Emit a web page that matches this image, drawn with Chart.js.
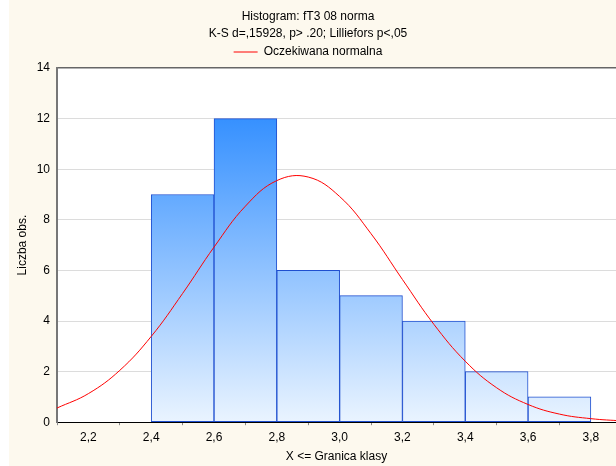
<!DOCTYPE html>
<html>
<head>
<meta charset="utf-8">
<script src="https://cdn.jsdelivr.net/npm/chart.js@4.4.1/dist/chart.umd.min.js"></script>
<style>
  html, body { margin:0; padding:0; background:#fff; }
  canvas { display:block; }
</style>
</head>
<body>
<canvas id="histo" width="616" height="466"></canvas>
<script>
// klasy histogramu (dolne granice) i liczebnosci
const binStarts = [2.4, 2.6, 2.8, 3.0, 3.2, 3.4, 3.6];
const binWidth = 0.2;
const counts = [9, 12, 6, 5, 4, 2, 1];
// krzywa "Oczekiwana normalna"
const curveX = [2.1, 2.2, 2.3, 2.4, 2.5, 2.6, 2.7, 2.8, 2.9, 3.0, 3.1, 3.2, 3.3, 3.4, 3.5, 3.6, 3.7, 3.8, 3.9];
const curveY = [0.56, 1.13, 2.05, 3.39, 5.09, 6.92, 8.54, 9.55, 9.69, 8.92, 7.45, 5.64, 3.87, 2.41, 1.36, 0.70, 0.32, 0.14, 0.05];
const xTicks = [2.2, 2.4, 2.6, 2.8, 3.0, 3.2, 3.4, 3.6, 3.8];
const yTicks = [0, 2, 4, 6, 8, 10, 12, 14];

const FONT = 'Liberation Sans, Arial, sans-serif';

const bgPlugin = {
  id: 'bg',
  beforeDraw(chart) {
    const { ctx, chartArea: a } = chart;
    ctx.save();
    ctx.fillStyle = '#fff';
    ctx.fillRect(0, 0, chart.width, chart.height);
    ctx.fillStyle = '#fdf9ee';
    ctx.fillRect(9, 0, chart.width - 9, chart.height);
    ctx.fillStyle = '#fff';
    ctx.fillRect(a.left, a.top, a.right - a.left, a.bottom - a.top);
    ctx.restore();
  }
};

function barGradient(context) {
  const { chart } = context;
  const a = chart.chartArea;
  if (!a) return '#5aa6ff';
  const g = chart.ctx.createLinearGradient(0, a.top, 0, a.bottom);
  g.addColorStop(0, '#1880ff');
  g.addColorStop(1, '#eaf4ff');
  return g;
}

new Chart(document.getElementById('histo'), {
  type: 'bar',
  data: {
    datasets: [
      {
        type: 'line',
        label: 'Oczekiwana normalna',
        data: curveX.map((x, i) => ({ x, y: curveY[i] })),
        borderColor: '#ff0000',
        backgroundColor: '#ff0000',
        borderWidth: 1,
        pointRadius: 0,
        pointStyle: 'line',
        tension: 0.4,
        fill: false,
        order: 0
      },
      {
        type: 'bar',
        label: 'fT3 08 norma',
        data: binStarts.map((s, i) => ({ x: s + binWidth / 2, y: counts[i] })),
        backgroundColor: barGradient,
        borderColor: '#1f4fcf',
        borderWidth: 1,
        borderSkipped: false,
        barPercentage: 1,
        categoryPercentage: 1,
        order: 1
      }
    ]
  },
  options: {
    responsive: false,
    devicePixelRatio: 1,
    animation: false,
    layout: { padding: { left: 0, right: 0, top: 0, bottom: 1 } },
    plugins: {
      title: {
        display: true,
        text: ['Histogram: fT3 08 norma', 'K-S d=,15928, p> .20; Lilliefors p<,05'],
        color: '#000',
        font: { family: FONT, size: 12, weight: 'normal', lineHeight: '17px' },
        padding: { top: 8, bottom: 0 }
      },
      legend: {
        display: true,
        labels: {
          filter: item => item.datasetIndex === 0,
          usePointStyle: true,
          pointStyleWidth: 24,
          color: '#000',
          font: { family: FONT, size: 12 },
          padding: 4
        }
      },
      tooltip: { enabled: false }
    },
    scales: {
      x: {
        type: 'linear',
        min: 2.1,
        max: 3.88,
        offset: false,
        afterBuildTicks: s => { s.ticks = xTicks.map(v => ({ value: v })); },
        ticks: {
          callback: v => v.toFixed(1).replace('.', ','),
          color: '#000',
          font: { family: FONT, size: 12 },
          padding: 5,
          maxRotation: 0,
          autoSkip: false
        },
        grid: { display: true, drawOnChartArea: false, drawTicks: true, tickLength: 3, color: '#888' },
        border: { display: true, color: '#000', width: 1 },
        title: {
          display: true,
          text: 'X <= Granica klasy',
          color: '#000',
          font: { family: FONT, size: 12 },
          padding: { top: 0, bottom: 1 }
        }
      },
      y: {
        min: 0,
        max: 14,
        afterBuildTicks: s => { s.ticks = yTicks.map(v => ({ value: v })); },
        afterFit: s => { s.width = 57; },
        ticks: {
          color: '#000',
          font: { family: FONT, size: 12 },
          padding: 7
        },
        grid: {
          drawTicks: false,
          color: c => (c.tick && c.tick.value === 14 ? '#666' : '#dcdcdc'),
          lineWidth: c => (c.tick && c.tick.value === 14 ? 1.5 : 1)
        },
        border: { display: true, color: '#777', width: 2 },
        title: {
          display: true,
          text: 'Liczba obs.',
          color: '#000',
          font: { family: FONT, size: 12 },
          padding: { top: 15, bottom: 0 }
        }
      }
    }
  },
  plugins: [bgPlugin]
});
</script>
</body>
</html>
